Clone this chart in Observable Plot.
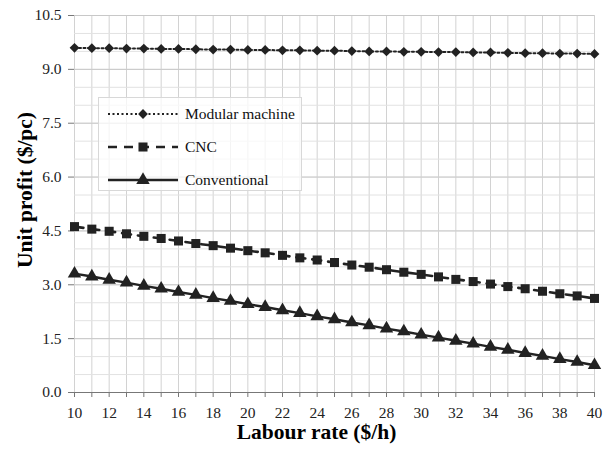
<!DOCTYPE html>
<html><head><meta charset="utf-8">
<script src="https://cdn.jsdelivr.net/npm/d3@7"></script>
<script src="https://cdn.jsdelivr.net/npm/@observablehq/plot@0.6"></script>
<style>
html,body{margin:0;padding:0;background:#fff;}
#wrap{position:relative;width:610px;height:472px;}
#wrap svg, #wrap svg text{font-family:"Liberation Serif","Times New Roman",serif !important;}
#legend{position:absolute;left:98px;top:97px;width:204px;height:94px;background:rgba(255,255,255,0.75);border:1px solid #d8d8d8;box-sizing:border-box;}
#legend text{font-size:15.5px;fill:#111;}
</style></head>
<body><div id="wrap"></div>
<script>
const labourRate = [10,11,12,13,14,15,16,17,18,19,20,21,22,23,24,25,26,27,28,29,30,31,32,33,34,35,36,37,38,39,40];
const modular = [9.60,9.59,9.59,9.58,9.58,9.57,9.57,9.56,9.55,9.55,9.54,9.54,9.53,9.53,9.52,9.52,9.51,9.50,9.50,9.49,9.49,9.48,9.48,9.47,9.47,9.46,9.45,9.45,9.44,9.44,9.43];
const cnc = [4.62,4.55,4.49,4.42,4.35,4.29,4.22,4.15,4.09,4.02,3.95,3.89,3.82,3.75,3.69,3.62,3.55,3.49,3.42,3.35,3.29,3.22,3.15,3.09,3.02,2.95,2.89,2.82,2.75,2.69,2.62];
const conventional = [3.31,3.23,3.14,3.06,2.97,2.89,2.80,2.72,2.63,2.55,2.46,2.38,2.29,2.21,2.12,2.04,1.95,1.87,1.78,1.70,1.61,1.53,1.44,1.36,1.27,1.19,1.10,1.02,0.93,0.85,0.76];
const seriesNames = ["Modular machine","CNC","Conventional"];
const yTicks = [0,1.5,3,4.5,6,7.5,9,10.5];
const yMinor = [0,0.5,1,1.5,2,2.5,3,3.5,4,4.5,5,5.5,6,6.5,7,7.5,8,8.5,9,9.5,10,10.5];
const xLabelTicks = [10,12,14,16,18,20,22,24,26,28,30,32,34,36,38,40];
const xTitle = "Labour rate ($/h)";
const yTitle = "Unit profit ($/pc)";

const styles = {
  "Modular machine": {symbol:"diamond2", dash:"2,2.5", w:2, r:4.4},
  "CNC": {symbol:"square", dash:"9,7", w:2.6, r:5.1},
  "Conventional": {symbol:"triangle", dash:null, w:2.4, r:5}
};
const ink = "#222";
const serif = '"Liberation Serif","Times New Roman",serif';

const toRows = (vals, s) => labourRate.map((x,i)=>({x, y:vals[i], s}));
const rows = {"Modular machine": toRows(modular,"Modular machine"), "CNC": toRows(cnc,"CNC"), "Conventional": toRows(conventional,"Conventional")};

const marks = [
  Plot.gridX(labourRate, {stroke:"#d2d2d2", strokeOpacity:1}),
  Plot.gridY(yMinor, {stroke:"#e2e2e2", strokeOpacity:1}),
  Plot.gridY(yTicks, {stroke:"#c8c8c8", strokeOpacity:1}),
  Plot.axisY(yTicks, {tickFormat: d=>d.toFixed(1), tickSize:6, tickPadding:7, fontSize:15.5, label:null, stroke:"#777", color:"#222"}),
  Plot.axisX(labourRate, {tickFormat:()=>"", tickSize:5, stroke:"#777", label:null}),
  Plot.axisX(xLabelTicks, {tickSize:0, tickPadding:14, fontSize:15.5, label:null, color:"#222"}),
  Plot.ruleY([0], {stroke:"#777", strokeWidth:1.2}),
  Plot.text([yTitle], {text:d=>d, frameAnchor:"left", rotate:-90, dx:-49, dy:-14, lineAnchor:"middle", textAnchor:"middle", fontSize:21.5, fontWeight:"bold", fill:"#000"}),
  Plot.text([xTitle], {text:d=>d, frameAnchor:"bottom", dx:-18, dy:40, lineAnchor:"middle", textAnchor:"middle", fontSize:21.5, fontWeight:"bold", fill:"#000"})
];
for (const name of seriesNames) {
  const st = styles[name];
  marks.push(Plot.line(rows[name], {x:"x", y:"y", stroke:ink, strokeWidth:st.w, strokeDasharray:st.dash}));
  marks.push(Plot.dot(rows[name], {x:"x", y:"y", symbol:()=>st.symbol, fill:ink, stroke:"none", r:st.r}));
}

const chart = Plot.plot({
  width:610, height:472,
  marginLeft:74, marginRight:16, marginTop:15, marginBottom:80,
  style:{fontFamily:serif, background:"#fff"},
  x:{domain:[10,40]},
  y:{domain:[0,10.5]},
  symbol:{type:"identity"},
  marks
});
document.getElementById("wrap").appendChild(chart);

// legend
const leg = d3.select("#wrap").append("div").attr("id","legend")
  .append("svg").attr("width",204).attr("height",94).style("font-family",serif);
const symGen = {diamond2:d3.symbolDiamond2, square:d3.symbolSquare, triangle:d3.symbolTriangle};
seriesNames.forEach((name,i)=>{
  const st = styles[name];
  const g = leg.append("g").attr("transform",`translate(0,${16+i*33})`);
  g.append("line").attr("x1",9).attr("x2",79).attr("y1",0).attr("y2",0)
    .attr("stroke",ink).attr("stroke-width",st.w).attr("stroke-dasharray",st.dash);
  g.append("path").attr("transform","translate(44,0)").attr("d",d3.symbol(symGen[st.symbol], Math.PI*st.r*st.r)()).attr("fill",ink);
  g.append("text").attr("x",86).attr("y",5).text(name);
});
</script></body></html>
